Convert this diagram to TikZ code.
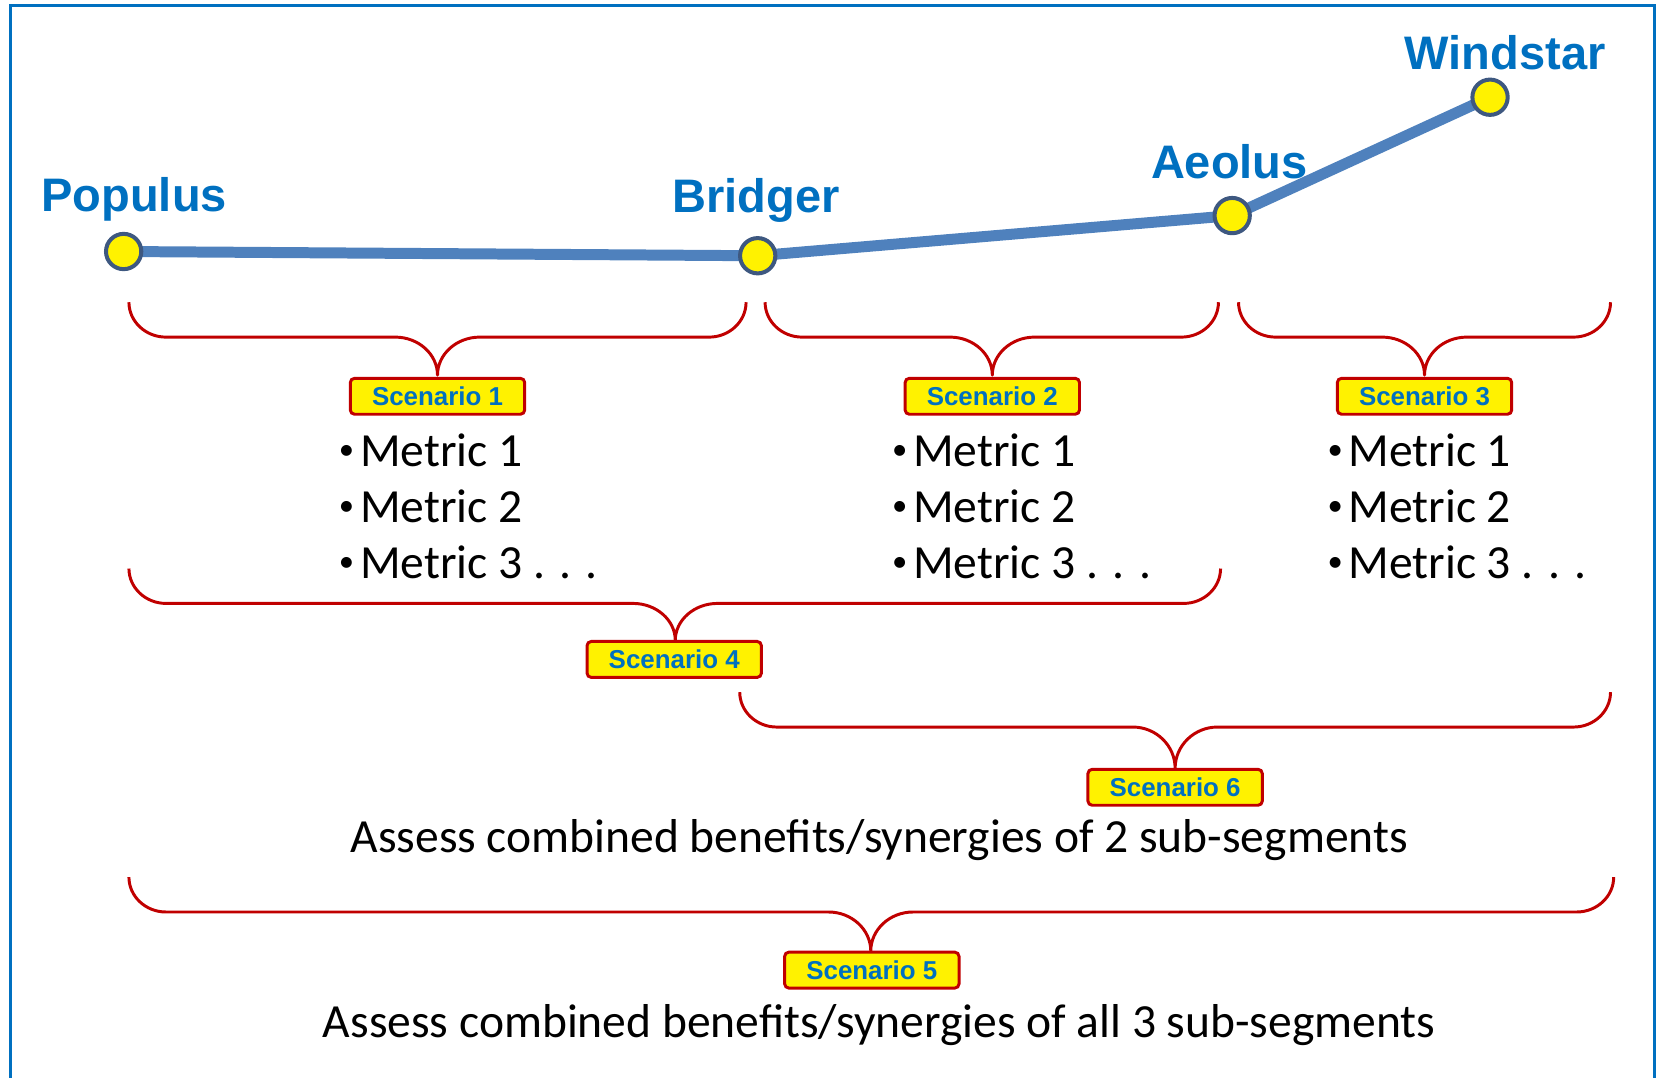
\documentclass[tikz,border=0pt]{standalone}
\usepackage{fontspec}
\setmainfont{Carlito}
\newfontfamily\labelfont{Liberation Sans}
\usetikzlibrary{backgrounds}
\definecolor{frameblue}{RGB}{0,112,192}
\definecolor{routeblue}{RGB}{79,129,189}
\definecolor{sitetrim}{RGB}{62,88,128}
\definecolor{bracered}{RGB}{192,0,0}
\definecolor{labelblue}{RGB}{0,112,192}

% curly brace: left x, right x, top y, bar y, tip x, tip y
\newcommand{\curlybrace}[6]{%
  \draw[bracebar] (#1,#3)
    .. controls (#1,{#3+0.55*(#4-#3)}) and ({#1+15.75},#4) .. ({#1+35},#4)
    -- ({#5-40},#4)
    .. controls ({#5-18},#4) and (#5,{#6-0.55*(#6-#4)}) .. (#5,#6)
    .. controls (#5,{#6-0.55*(#6-#4)}) and ({#5+18},#4) .. ({#5+40},#4)
    -- ({#2-35},#4)
    .. controls ({#2-15.75},#4) and (#2,{#3+0.55*(#4-#3)}) .. (#2,#3);}

% list bullet: a small dot followed by a short gap
\newcommand{\metricdot}{\makebox[20pt][l]{\raisebox{6pt}{\fontsize{29}{29}\selectfont•}}}

\begin{document}
\begin{tikzpicture}[x=1pt,y=-1pt,
  site/.style={circle,draw=sitetrim,fill=yellow,line width=3.8pt,
    minimum size=33.4pt,inner sep=0pt},
  sitename/.style={font=\labelfont\bfseries\fontsize{44.5}{50}\selectfont,
    text=labelblue,anchor=base west,inner sep=0pt},
  scen/.style={draw=bracered,fill=yellow,line width=2.8pt,rounded corners=4pt,
    minimum width=165pt,minimum height=34pt,inner sep=0pt,
    font=\labelfont\bfseries\fontsize{24.5}{29}\selectfont,text=labelblue},
  metric/.style={font=\fontsize{45}{50}\selectfont,anchor=base west,inner sep=0pt},
  summary/.style={font=\fontsize{45}{50}\selectfont,anchor=base,inner sep=0pt},
  bracebar/.style={draw=bracered,line width=2.8pt,line join=round},
  route/.style={draw=routeblue,line width=10.4pt}]
\useasboundingbox (0,0) rectangle (1568,1020);

% frame
\draw[frameblue,line width=3.3pt] (9.8,1030) -- (9.8,5.4) -- (1565.5,5.4) -- (1565.5,1030);

% sites along the route
\node[site] (pop) at (117,238) {};
\node[site] (bri) at (717,242) {};
\node[site] (aeo) at (1166,204) {};
\node[site] (win) at (1410,92) {};
\begin{scope}[on background layer]
  \draw[route] (pop.center) -- (bri.center) -- (aeo.center) -- (win.center);
\end{scope}

\node[sitename] (popname) at (39,200) {Populus};
\node[sitename] (briname) at (636,201) {Bridger};
\node[sitename] (aeoname) at (1089,169) {Aeolus};
\node[sitename] (winname) at (1329,66) {Windstar};

% single sub-segment braces
\curlybrace{122}{706}{286}{319}{414}{355}
\curlybrace{724}{1153}{286}{319}{939}{355}
\curlybrace{1172}{1524}{286}{319}{1348}{355}

\node[scen] (s1) at (414,375) {Scenario 1};
\node[scen] (s2) at (939,375) {Scenario 2};
\node[scen] (s3) at (1348,375) {Scenario 3};

% metric lists
\foreach \x/\c in {320.5/a,844/b,1256/c}{
  \node[metric] (m1\c) at (\x,441) {\metricdot Metric 1};
  \node[metric] (m2\c) at (\x,494) {\metricdot Metric 2};
  \node[metric] (m3\c) at (\x,547) {\metricdot Metric 3 . . .};
}

% pairs of sub-segments
\curlybrace{122}{1155}{538}{571}{639}{606}
\node[scen] (s4) at (638,624) {Scenario 4};
\curlybrace{700}{1524}{655}{688}{1112}{727}
\node[scen] (s6) at (1112,745) {Scenario 6};
\node[summary] (pairs) at (832,807) {Assess combined benefits/synergies of 2 sub-segments};

% all three sub-segments
\curlybrace{122}{1527}{830}{863}{824}{900}
\node[scen] (s5) at (825,918) {Scenario 5};
\node[summary] (all) at (832,982) {Assess combined benefits/synergies of all 3 sub-segments};
\end{tikzpicture}
\end{document}
